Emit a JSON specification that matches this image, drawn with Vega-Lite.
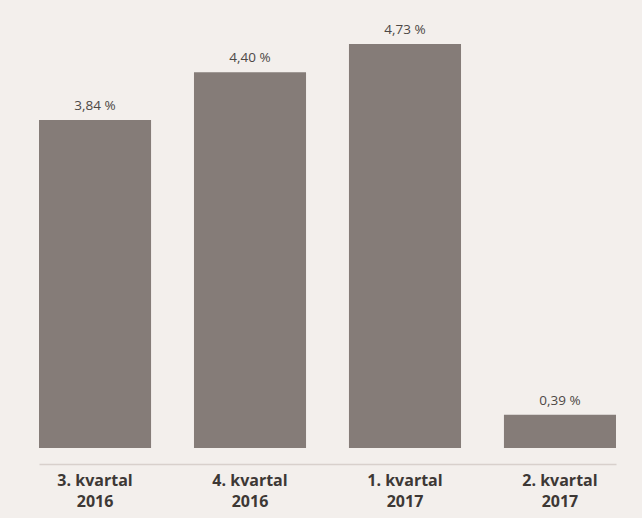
{
  "$schema": "https://vega.github.io/schema/vega-lite/v6.json",
  "autosize": {"type": "none"},
  "width": 577,
  "height": 427,
  "padding": {"left": 39, "top": 21, "right": 26, "bottom": 70},
  "background": "#f3efec",
  "config": {"view": {"stroke": null}},
  "data": {"values": [
    {"kvartal": "3. kvartal\n2016", "value": 3.84, "label": "3,84 %"},
    {"kvartal": "4. kvartal\n2016", "value": 4.40, "label": "4,40 %"},
    {"kvartal": "1. kvartal\n2017", "value": 4.73, "label": "4,73 %"},
    {"kvartal": "2. kvartal\n2017", "value": 0.39, "label": "0,39 %"}
  ]},
  "encoding": {
    "x": {"field": "kvartal", "type": "nominal", "sort": null,
      "scale": {"paddingInner": 0.277, "paddingOuter": 0},
      "axis": {"title": null, "labelAngle": 0, "ticks": false, "offset": 16,
        "domainColor": "#d8d0cc", "domainWidth": 1.5,
        "labelExpr": "split(datum.label, '\\n')",
        "labelFont": "Open Sans", "labelFontWeight": "bold", "labelFontSize": 16,
        "labelColor": "#3d3835", "labelPadding": 8, "labelLineHeight": 21}},
    "y": {"field": "value", "type": "quantitative",
      "scale": {"domain": [0, 5]}, "axis": null}
  },
  "layer": [
    {"mark": {"type": "bar", "color": "#857c78"}},
    {"mark": {"type": "text", "dy": -14, "font": "Open Sans", "fontWeight": "normal", "fontSize": 13.5, "color": "#4d4845"},
     "encoding": {"text": {"field": "label"}}}
  ]
}
